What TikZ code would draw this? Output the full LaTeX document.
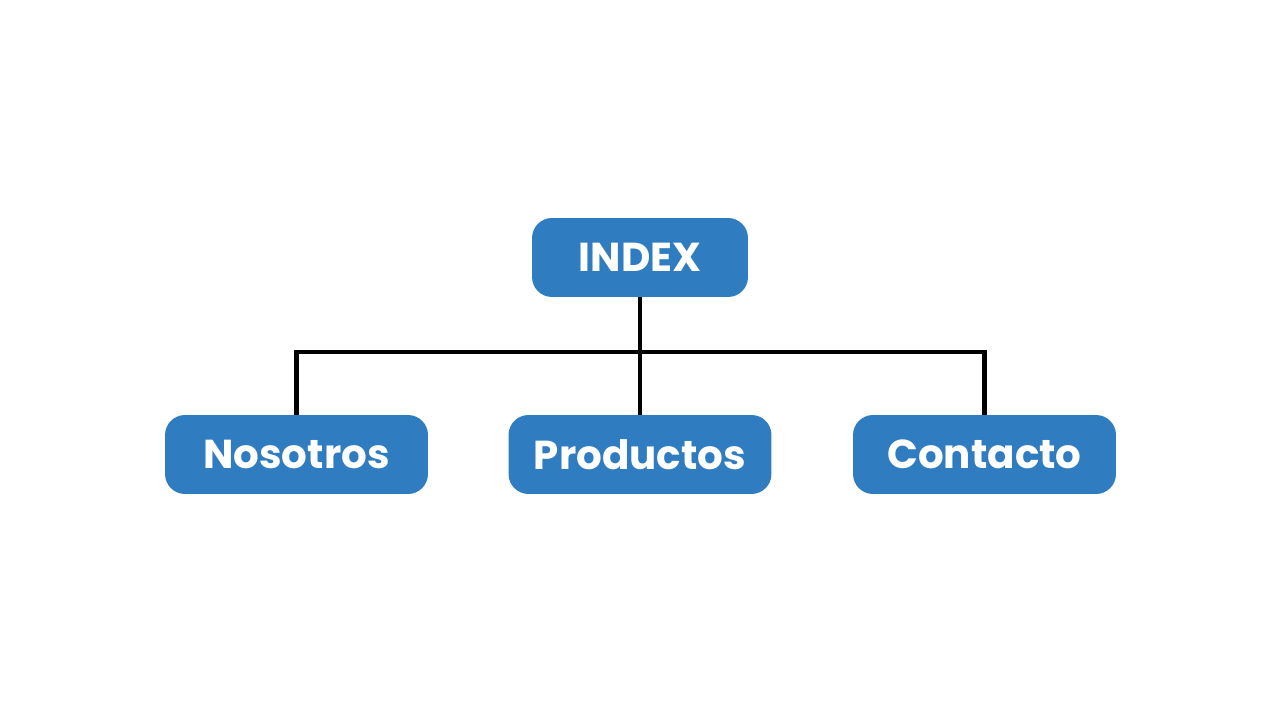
\documentclass[tikz,border=0pt]{standalone}
\usepackage{fontspec}
\setmainfont{Poppins}
\usepackage{tikz}
\usetikzlibrary{positioning}
\definecolor{bluebox}{RGB}{47, 125, 192}
\tikzset{
  pagebox/.style={fill=bluebox, rounded corners=0.4cm, minimum height=1.58cm, text=white, font=\fontsize{23}{27}\selectfont\bfseries, inner sep=0pt},
  treeline/.style={line width=2.3pt, black}
}

\begin{document}
\begin{tikzpicture}[x=0.02cm, y=-0.02cm]
\useasboundingbox (0,0) rectangle (1281,713);
\node[pagebox, minimum width=4.32cm] (index) at (640,257.5) {INDEX};
\node[pagebox, minimum width=5.26cm] (nosotros) at (296.5,454.5) {Nosotros};
\node[pagebox, minimum width=5.26cm] (productos) at (640,454.5) {Productos};
\node[pagebox, minimum width=5.26cm] (contacto) at (984.5,454.5) {Contacto};
\coordinate (split) at (640,352);
\draw[treeline] (index.south) -- (split);
\draw[treeline] (split) -| (nosotros.north);
\draw[treeline] (split) -- (productos.north);
\draw[treeline] (split) -| (contacto.north);
\end{tikzpicture}
\end{document}
